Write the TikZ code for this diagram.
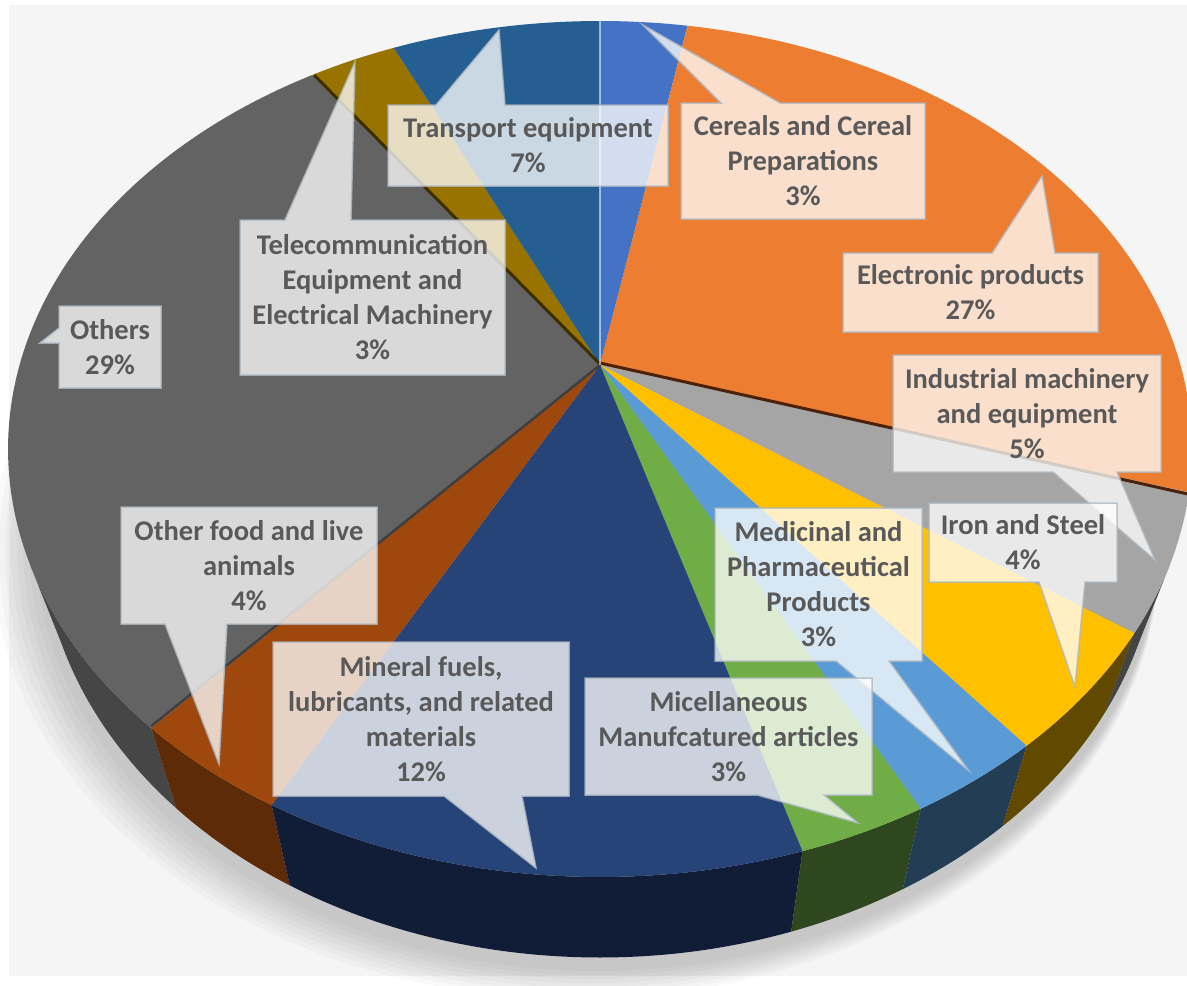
\documentclass[tikz,border=0pt]{standalone}
\usepackage{fontspec}
\setmainfont{Carlito}
\definecolor{bgc}{HTML}{F5F5F5}
\definecolor{cTrans}{HTML}{255E91}
\definecolor{cCer}{HTML}{4472C4}
\definecolor{cElec}{HTML}{ED7D31}
\definecolor{cInd}{HTML}{A5A5A5}
\definecolor{cIron}{HTML}{FFC000}
\definecolor{cMed}{HTML}{5B9BD5}
\definecolor{cMisc}{HTML}{70AD47}
\definecolor{cMin}{HTML}{264478}
\definecolor{cFood}{HTML}{9E480E}
\definecolor{cOth}{HTML}{636363}
\definecolor{cTel}{HTML}{997300}
\definecolor{sOth}{HTML}{464646}
\definecolor{sFood}{HTML}{5E2B09}
\definecolor{sMin}{HTML}{111D36}
\definecolor{sMisc}{HTML}{2E471E}
\definecolor{sMed}{HTML}{233D55}
\definecolor{sIron}{HTML}{614900}
\definecolor{sInd}{HTML}{444444}
\definecolor{txt}{HTML}{595959}
\definecolor{cbord}{HTML}{AEB8C2}
\begin{document}
\begin{tikzpicture}[x=1pt,y=-1pt,
  lbl/.style={font=\bfseries\fontsize{28.5}{35}\selectfont, text=txt, align=center, inner sep=0pt},
  callout/.style={fill=white, fill opacity=0.76, draw=cbord, draw opacity=0.8, line width=1.5pt, line join=miter}]
\useasboundingbox (0,0) rectangle (1187,986);
\fill[white] (0,0) rectangle (1187,986);
\fill[bgc] (9,5) rectangle (1187,976);
% soft shadow
\foreach \k in {1,...,8}{
  \fill[black, opacity=0.025] (600-3*\k,538+2*\k) ellipse[x radius={559+3*\k}, y radius={429+2*\k}];
}
% sides
\foreach \a/\b/\c in {-139.3/-164.3/sOth, -123.7/-139.3/sFood, -70/-123.7/sMin, -57.2/-70/sMisc, -43.9/-57.2/sMed, -25.5/-43.9/sIron, -15.7/-25.5/sInd}{
  \fill[\c] plot[domain=\a:\b, samples=60, variable=\t] ({600+592*cos(\t)},{449-428*sin(\t)})
     -- plot[domain=\b:\a, samples=60, variable=\t] ({600+559*cos(\t)},{528.5-429*sin(\t)}) -- cycle;
}
% top face
\foreach \a/\b/\c in {90/81.5/cCer, 81.5/-5.8/cElec, -5.8/-25.5/cInd, -25.5/-43.9/cIron, -43.9/-57.2/cMed, -57.2/-70/cMisc, -70/-123.7/cMin, -123.7/-139.3/cFood, -139.3/-240.9/cOth, 119.1/110.4/cTel, 110.4/90/cTrans}{
  \fill[\c] (600,365) -- plot[domain=\a:\b, samples=80, variable=\t] ({600+592*cos(\t)},{449-428*sin(\t)}) -- cycle;
}
% bevel edges
\coordinate (apex) at (600,365);
\coordinate (eInd) at ({600+592*cos(-5.8)},{449-428*sin(-5.8)+2});
\coordinate (eTel) at ({600+592*cos(119.1)+2},{449-428*sin(119.1)});
\coordinate (eFood) at ({600+592*cos(-139.3)},{449-428*sin(-139.3)-2});
\coordinate (eTop) at (600,21);
\draw[line width=3pt, color=sFood!80!black] ([yshift=2pt]apex) -- (eInd);
\draw[line width=3pt, color=cTel!40!black] ([xshift=1pt]apex) -- (eTel);
\draw[line width=2.5pt, color=sOth!90!black] (apex) -- (eFood);
\draw[line width=1.5pt, color=white, opacity=0.55] (apex) -- (eTop);
% callouts
\path[callout] (388,105) -- (436,105) -- (499,30) -- (505,105) -- (668,105) -- (668,186) -- (388,186) -- cycle;
\path[callout] (681,103) -- (721,103) -- (643,25) -- (780,103) -- (925,103) -- (925,219) -- (681,219) -- cycle;
\path[callout] (843,253) -- (992,253) -- (1042,176) -- (1055,253) -- (1098,253) -- (1098,332) -- (843,332) -- cycle;
\path[callout] (893,355) -- (1161,355) -- (1161,472) -- (1117,472) -- (1155,560) -- (1053,472) -- (893,472) -- cycle;
\path[callout] (929,503) -- (1117,503) -- (1117,582) -- (1085,582) -- (1075,687) -- (1039,582) -- (929,582) -- cycle;
\path[callout] (715,508) -- (922,508) -- (922,661) -- (889,661) -- (969,771) -- (836,661) -- (715,661) -- cycle;
\path[callout] (585,678) -- (872,678) -- (872,795) -- (824,795) -- (858,823) -- (757,795) -- (585,795) -- cycle;
\path[callout] (273,642) -- (569,642) -- (569,796) -- (522,796) -- (536,868) -- (444,796) -- (273,796) -- cycle;
\path[callout] (121,507) -- (377,507) -- (377,624) -- (227,624) -- (219,764) -- (165,624) -- (121,624) -- cycle;
\path[callout] (59,306) -- (161,306) -- (161,388) -- (59,388) -- (59,343) -- (40,343) -- (59,328) -- cycle;
\path[callout] (240,220) -- (285,220) -- (355,62) -- (351,220) -- (505,220) -- (505,375) -- (240,375) -- cycle;
% labels
\node[lbl] (tTrans) at (528,145.5) {Transport equipment\\7\%};
\node[lbl] (tCer) at (803,161) {Cereals and Cereal\\Preparations\\3\%};
\node[lbl] (tElec) at (970.5,292.5) {Electronic products\\27\%};
\node[lbl] (tInd) at (1027,413.5) {Industrial machinery\\and equipment\\5\%};
\node[lbl] (tIron) at (1023,542.5) {Iron and Steel\\4\%};
\node[lbl] (tMed) at (818.5,584.5) {Medicinal and\\Pharmaceutical\\Products\\3\%};
\node[lbl] (tMisc) at (728.5,736.5) {Micellaneous\\Manufcatured articles\\3\%};
\node[lbl] (tMin) at (421,719) {Mineral fuels,\\lubricants, and related\\materials\\12\%};
\node[lbl] (tFood) at (249,565.5) {Other food and live\\animals\\4\%};
\node[lbl] (tOth) at (110,347) {Others\\29\%};
\node[lbl] (tTel) at (372.5,297.5) {Telecommunication\\Equipment and\\Electrical Machinery\\3\%};
\end{tikzpicture}
\end{document}
